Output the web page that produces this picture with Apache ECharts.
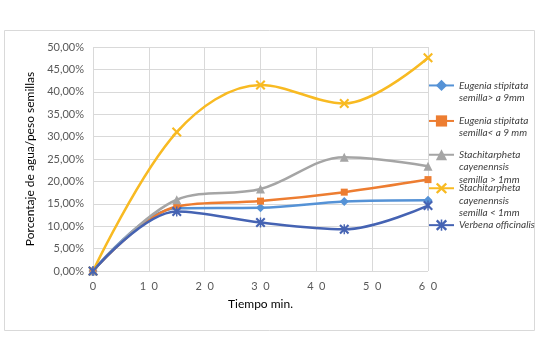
<!DOCTYPE html>
<html>
<head>
<meta charset="utf-8">
<style>
  html, body { margin: 0; padding: 0; background: #fff; }
  #chart { width: 540px; height: 340px; }
</style>
<script src="https://cdn.jsdelivr.net/npm/echarts@6/dist/echarts.min.js"></script>
</head>
<body>
<div id="chart"></div>
<script>
// tiempo (min) y porcentaje de agua/peso de semillas
var timeMin = [0, 15, 30, 45, 60];
var eugeniaMayor = [0, 14.0, 14.1, 15.5, 15.8];
var eugeniaMenor = [0, 14.4, 15.6, 17.6, 20.4];
var stachMayor = [0, 15.9, 18.3, 25.4, 23.4];
var stachMenor = [0, 31.0, 41.5, 37.4, 47.6];
var verbena = [0, 13.3, 10.8, 9.3, 14.6];

var seriesNames = [
  'Eugenia stipitata\nsemilla> a 9mm',
  'Eugenia stipitata\nsemilla< a 9 mm',
  'Stachitarpheta\ncayenennsis\nsemilla > 1mm',
  'Stachitarpheta\ncayenennsis\nsemilla < 1mm',
  'Verbena officinalis'
];
var seriesData = [eugeniaMayor, eugeniaMenor, stachMayor, stachMenor, verbena];

var colors = ['#5592D6', '#ED7D31', '#A5A5A5', '#F8BA22', '#4563B3'];
var xMark = 'path://M0,1.5L1.5,0L5,3.5L8.5,0L10,1.5L6.5,5L10,8.5L8.5,10L5,6.5L1.5,10L0,8.5L3.5,5Z';
var starMark = xMark + 'M4.3,0L5.7,0L5.7,10L4.3,10Z';
var symbols = ['diamond', 'rect', 'triangle', xMark, starMark];
var symbolSizes = [9, 7, 9, 10, 10];

// legend: one box per item so the icon sits on the first text line
var legendTops = [67, 102.5, 124, 157.5, 219];
var lineH = 12.3;

var chart = echarts.init(document.getElementById('chart'));

var legends = seriesNames.map(function (name, i) {
  return {
    orient: 'vertical',
    left: 428,
    top: legendTops[i],
    padding: 0,
    itemWidth: 25,
    itemHeight: 14,
    data: [name],
    // blank lines on top keep the icon level with the first line
    formatter: function (n) {
      return new Array(n.split('\n').length).join('\n') + n;
    },
    textStyle: {
      fontFamily: 'Lato',
      fontStyle: 'italic',
      fontSize: 10,
      color: '#404040',
      lineHeight: lineH
    }
  };
});

var series = seriesNames.map(function (name, i) {
  return {
    name: name,
    type: 'line',
    smooth: 0.35,
    data: timeMin.map(function (t, k) { return [t, seriesData[i][k]]; }),
    color: colors[i],
    symbol: symbols[i],
    symbolSize: symbolSizes[i],
    showAllSymbol: true,
    lineStyle: { width: 2.5, color: colors[i] },
    itemStyle: { color: colors[i] }
  };
});

var option = {
  animation: false,
  backgroundColor: '#fff',
  textStyle: { fontFamily: 'Lato' },
  graphic: [{
    type: 'rect',
    shape: { x: 4.5, y: 30.5, width: 530, height: 300 },
    style: { fill: 'none', stroke: '#D9D9D9', lineWidth: 1 },
    silent: true
  }],
  legend: legends,
  grid: {
    left: 93,
    right: 112,
    top: 47,
    bottom: 69,
    containLabel: false,
    outerBoundsMode: 'none'
  },
  xAxis: {
    type: 'value',
    min: 0,
    max: 60,
    interval: 10,
    name: 'Tiempo min.',
    nameLocation: 'middle',
    nameGap: 27,
    nameTextStyle: { fontSize: 12, color: '#000', fontFamily: 'Lato' },
    axisLine: { show: false },
    axisTick: { show: false },
    splitLine: { show: true, lineStyle: { color: '#D9D9D9', width: 1 } },
    axisLabel: {
      margin: 10,
      fontSize: 11,
      color: '#595959',
      fontFamily: 'Lato',
      formatter: function (v) { return String(v).split('').join('\u2002'); }
    }
  },
  yAxis: {
    type: 'value',
    min: 0,
    max: 50,
    interval: 5,
    name: 'Porcentaje de agua/peso semillas',
    nameLocation: 'middle',
    nameGap: 53,
    nameTextStyle: { fontSize: 12, color: '#000', fontFamily: 'Lato' },
    axisLine: { show: false },
    axisTick: { show: false },
    splitLine: { show: true, lineStyle: { color: '#D9D9D9', width: 1 } },
    axisLabel: {
      margin: 9,
      fontSize: 11,
      color: '#595959',
      fontFamily: 'Lato',
      formatter: function (v) { return v.toFixed(2).replace('.', ',') + '%'; }
    }
  },
  series: series
};

chart.setOption(option);
</script>
</body>
</html>
